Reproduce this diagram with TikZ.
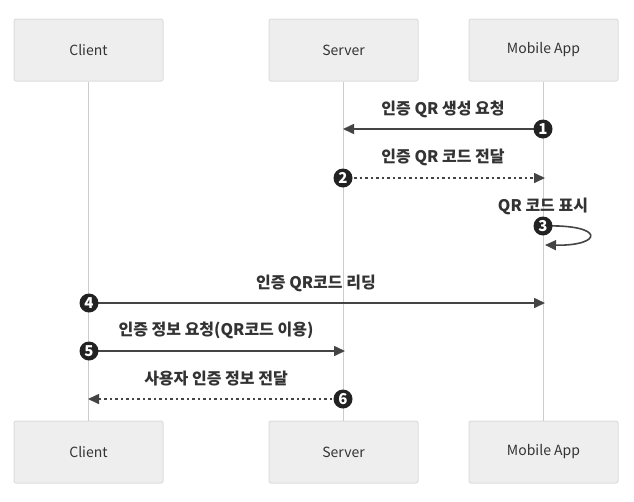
\documentclass[tikz,border=0pt]{standalone}
\usepackage{fontspec}
\setmainfont{Noto Sans CJK KR}
\usetikzlibrary{arrows.meta}
\definecolor{boxfill}{HTML}{EEEEEE}
\definecolor{boxline}{HTML}{DDDDDD}
\definecolor{lifegray}{HTML}{CCCCCC}
\definecolor{msgdark}{HTML}{444444}
\definecolor{textdark}{HTML}{333333}
\definecolor{stepblack}{HTML}{222222}
\tikzset{
  actor/.style={draw=boxline, line width=1pt, fill=boxfill, rounded corners=2pt,
    minimum width=149pt, minimum height=62pt, text=textdark,
    font=\fontsize{14}{16}\selectfont},
  lifeline/.style={draw=lifegray, line width=1.5pt},
  msg/.style={draw=msgdark, line width=1.6pt, -{Triangle[length=11pt,width=10pt]}},
  reply/.style={msg, dash pattern=on 2.5pt off 3pt},
  stepnum/.style={circle, fill=stepblack, text=white, inner sep=0pt,
    minimum size=19pt, font=\bfseries\fontsize{15}{15}\selectfont},
  msglabel/.style={text=textdark, font=\bfseries\fontsize{16}{18}\selectfont}
}
\begin{document}
\begin{tikzpicture}[x=1pt, y=-1pt]
  \useasboundingbox (0,0) rectangle (634,501);
  % actors
  \node[actor] (clientTop) at (88.5,50) {Client};
  \node[actor] (serverTop) at (343.5,50) {Server};
  \node[actor] (appTop) at (543.5,50) {Mobile App};
  \node[actor] (clientBot) at (88.5,452) {Client};
  \node[actor] (serverBot) at (343.5,452) {Server};
  \node[actor] (appBot) at (543.5,452) {Mobile App};
  % lifelines
  \draw[lifeline] (clientTop) -- (clientBot);
  \draw[lifeline] (serverTop) -- (serverBot);
  \draw[lifeline] (appTop) -- (appBot);
  % points on the lifelines
  \coordinate (srv1) at (343,129);
  \coordinate (app2) at (545,178);
  \coordinate (app3) at (545,245);
  \coordinate (app4) at (545,303);
  \coordinate (srv5) at (345,351);
  \coordinate (cli6) at (88,399);
  % 1
  \node[msglabel] (lbl1) at (443,109) {인증 QR 생성 요청};
  \draw[msg] (543,129) -- (srv1);
  \node[stepnum] (s1) at (543,129) {1};
  % 2
  \node[msglabel] (lbl2) at (443,157) {인증 QR 코드 전달};
  \draw[reply] (343,178) -- (app2);
  \node[stepnum] (s2) at (343,178) {2};
  % 3
  \node[msglabel] (lbl3) at (543,206) {QR 코드 표시};
  \draw[msg] (543,226) .. controls (606,224) and (603,246) .. (app3);
  \node[stepnum] (s3) at (543,226) {3};
  % 4
  \node[msglabel] (lbl4) at (316,283) {인증 QR코드 리딩};
  \draw[msg] (89,303) -- (app4);
  \node[stepnum] (s4) at (89,303) {4};
  % 5
  \node[msglabel] (lbl5) at (216,330) {인증 정보 요청(QR코드 이용)};
  \draw[msg] (89,351) -- (srv5);
  \node[stepnum] (s5) at (89,351) {5};
  % 6
  \node[msglabel] (lbl6) at (216,379) {사용자 인증 정보 전달};
  \draw[reply] (343,399) -- (cli6);
  \node[stepnum] (s6) at (343,399) {6};
\end{tikzpicture}
\end{document}
